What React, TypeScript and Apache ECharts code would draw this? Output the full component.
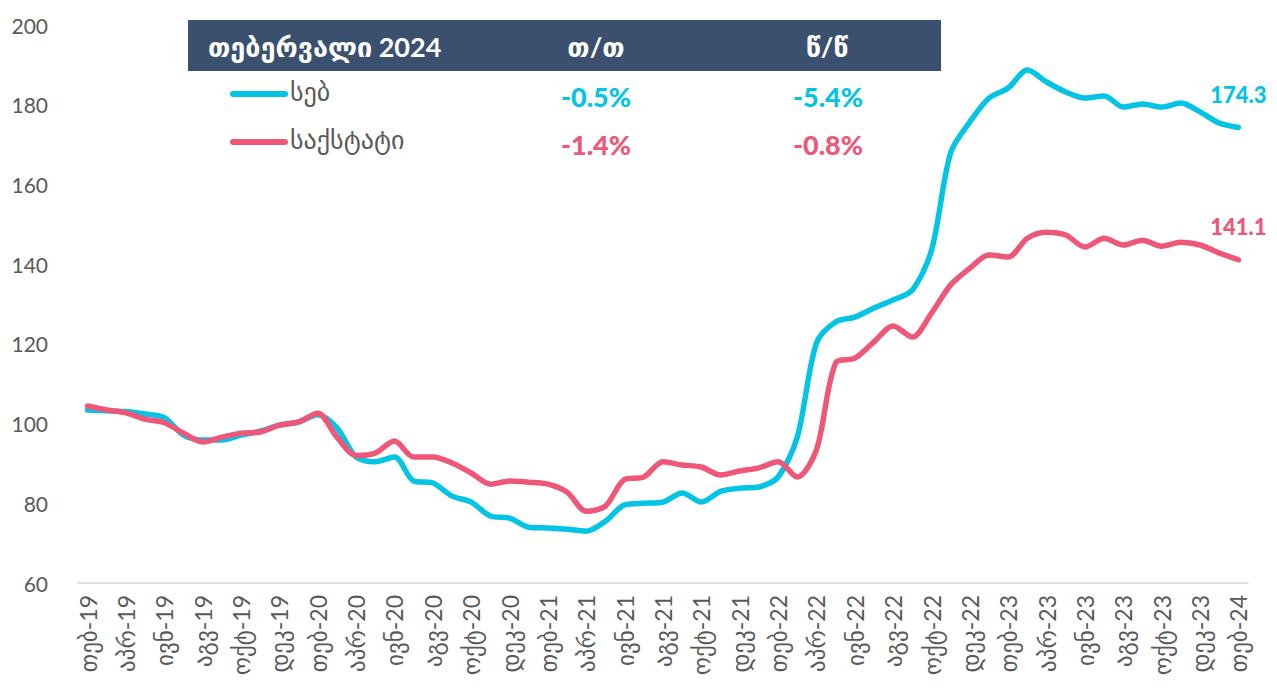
import React, { useEffect, useRef } from "react";
import * as echarts from "echarts";

// Feb 2019 .. Feb 2024
const labels: string[] = [
  "თებ-19","მარ-19","აპრ-19","მაი-19","ივნ-19","ივლ-19","აგვ-19","სექ-19","ოქტ-19","ნოე-19","დეკ-19","იან-20",
  "თებ-20","მარ-20","აპრ-20","მაი-20","ივნ-20","ივლ-20","აგვ-20","სექ-20","ოქტ-20","ნოე-20","დეკ-20","იან-21",
  "თებ-21","მარ-21","აპრ-21","მაი-21","ივნ-21","ივლ-21","აგვ-21","სექ-21","ოქტ-21","ნოე-21","დეკ-21","იან-22",
  "თებ-22","მარ-22","აპრ-22","მაი-22","ივნ-22","ივლ-22","აგვ-22","სექ-22","ოქტ-22","ნოე-22","დეკ-22","იან-23",
  "თებ-23","მარ-23","აპრ-23","მაი-23","ივნ-23","ივლ-23","აგვ-23","სექ-23","ოქტ-23","ნოე-23","დეკ-23","იან-24",
  "თებ-24",
];

const sebValues: number[] = [
  103.4, 103.2, 103.0, 102.4, 101.5, 97.1, 95.9, 95.9, 97.1, 98.1, 99.6, 100.4,
  102.2, 98.9, 91.6, 90.4, 91.6, 85.6, 85.1, 81.8, 80.3, 76.8, 76.3, 74.0,
  73.8, 73.5, 73.0, 75.5, 79.6, 80.0, 80.3, 82.6, 80.3, 83.0, 83.8, 84.1,
  86.6, 96.6, 120.2, 125.5, 126.7, 129.0, 131.0, 133.5, 143.5, 168.0, 175.7, 181.7,
  184.2, 188.7, 185.7, 183.2, 181.7, 182.2, 179.4, 180.2, 179.4, 180.4, 178.2, 175.4,
  174.3,
];

const geostatValues: number[] = [
  104.4, 103.4, 102.7, 101.1, 100.2, 97.6, 95.4, 96.6, 97.6, 97.9, 99.6, 100.4,
  102.6, 96.6, 92.0, 92.6, 95.6, 91.6, 91.6, 90.1, 87.6, 84.8, 85.6, 85.3,
  84.8, 82.8, 78.0, 79.3, 86.0, 86.6, 90.4, 89.6, 89.1, 87.1, 88.1, 88.9,
  90.4, 86.6, 93.4, 115.2, 116.4, 120.5, 124.5, 121.7, 127.7, 134.8, 139.0, 142.3,
  141.8, 146.5, 148.0, 147.3, 144.3, 146.5, 144.8, 146.0, 144.5, 145.5, 144.8, 142.8,
  141.1,
];

const yTicks = { min: 60, max: 200, interval: 20 };

const seriesNames = ["სებ", "საქსტატი"];
const tableHeader = ["თებერვალი 2024", "თ/თ", "წ/წ"];
const momChanges = ["-0.5%", "-1.4%"];
const yoyChanges = ["-5.4%", "-0.8%"];

const CYAN = "#03C4E4";
const PINK = "#EF5779";
const GRAY = "#595959";
const HEADER = "#3A506E";
const FONT = "Lato, 'DejaVu Sans', sans-serif";

export default function App() {
  const ref = useRef<HTMLDivElement>(null);
  useEffect(() => {
    if (!ref.current) return;
    const chart = echarts.init(ref.current, undefined, { renderer: "svg" });
    const last = sebValues.length - 1;
    const mkData = (vals: number[]) =>
      vals.map((v, i) => (i === last ? { value: v, label: { show: true } } : v));
    const mkLabel = (color: string) => ({
      show: false,
      position: "top",
      distance: 22,
      color,
      fontSize: 22,
      fontWeight: 900,
      fontFamily: FONT,
      formatter: (p: any) => Number(p.value).toFixed(1),
    });
    const rowY = [94, 142];
    const colors = [CYAN, PINK];
    const graphics: any[] = [
      { type: "rect", shape: { x: 188, y: 20, width: 753, height: 51 }, style: { fill: HEADER }, z: 10 },
      { type: "text", x: 208, y: 46, style: { text: tableHeader[0], fill: "#fff", font: `bold 27px ${FONT}`, textVerticalAlign: "middle" }, z: 11 },
      { type: "text", x: 596, y: 46, style: { text: tableHeader[1], fill: "#fff", font: `bold 27px ${FONT}`, textAlign: "center", textVerticalAlign: "middle" }, z: 11 },
      { type: "text", x: 827, y: 46, style: { text: tableHeader[2], fill: "#fff", font: `bold 27px ${FONT}`, textAlign: "center", textVerticalAlign: "middle" }, z: 11 },
    ];
    for (let r = 0; r < 2; r++) {
      graphics.push(
        { type: "line", shape: { x1: 233, y1: rowY[r], x2: 285, y2: rowY[r] }, style: { stroke: colors[r], lineWidth: 6, lineCap: "round" }, z: 11 },
        { type: "text", x: 290, y: rowY[r] - 3, style: { text: seriesNames[r], fill: GRAY, font: `26px ${FONT}`, textVerticalAlign: "middle" }, z: 11 },
        { type: "text", x: 596, y: rowY[r] + 2, style: { text: momChanges[r], fill: colors[r], font: `900 27px ${FONT}`, textAlign: "center", textVerticalAlign: "middle" }, z: 11 },
        { type: "text", x: 828, y: rowY[r] + 2, style: { text: yoyChanges[r], fill: colors[r], font: `900 27px ${FONT}`, textAlign: "center", textVerticalAlign: "middle" }, z: 11 }
      );
    }
    chart.setOption({
      animation: false,
      grid: { left: 78, right: 29, top: 25, bottom: 105, containLabel: false },
      xAxis: {
        type: "category",
        data: labels,
        boundaryGap: true,
        axisLine: { show: true, lineStyle: { color: "#D9D9D9", width: 1.5 } },
        axisTick: { show: false },
        axisLabel: {
          interval: 1,
          rotate: 90,
          color: GRAY,
          fontSize: 23,
          fontFamily: FONT,
          margin: 12,
        },
        splitLine: { show: false },
      },
      yAxis: {
        type: "value",
        min: yTicks.min,
        max: yTicks.max,
        interval: yTicks.interval,
        axisLine: { show: false },
        axisTick: { show: false },
        splitLine: { show: false },
        axisLabel: { color: GRAY, fontSize: 21, fontFamily: FONT, margin: 30 },
      },
      series: [
        {
          name: seriesNames[0],
          type: "line",
          data: mkData(sebValues),
          smooth: 0.3,
          symbol: "circle",
          symbolSize: 0,
          showSymbol: true,
          label: mkLabel(CYAN),
          lineStyle: { color: CYAN, width: 5.5, cap: "round" },
          itemStyle: { color: CYAN },
          z: 3,
        },
        {
          name: seriesNames[1],
          type: "line",
          data: mkData(geostatValues),
          smooth: 0.3,
          symbol: "circle",
          symbolSize: 0,
          showSymbol: true,
          label: mkLabel(PINK),
          lineStyle: { color: PINK, width: 5.5, cap: "round" },
          itemStyle: { color: PINK },
          z: 4,
        },
      ],
      graphic: graphics,
    });
    return () => chart.dispose();
  }, []);
  return <div ref={ref} style={{ position: "fixed", left: 0, top: 0, width: 1277, height: 688, background: "#fff" }} />;
}
